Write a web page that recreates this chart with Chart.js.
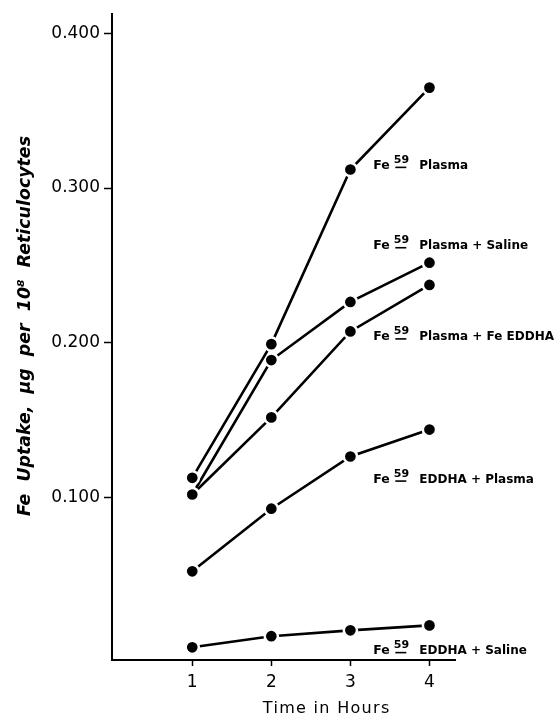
<!DOCTYPE html>
<html>
<head>
<meta charset="utf-8">
<script src="https://cdn.jsdelivr.net/npm/chart.js@4"></script>
<style>
html,body{margin:0;padding:0;background:#fff;}
canvas{display:block;}
</style>
</head>
<body>
<canvas id="c" width="560" height="717"></canvas>
<script>
// ---- data ----
const hours = [1, 2, 3, 4];
const plasma        = [0.1125, 0.199, 0.312, 0.365];
const plasmaSaline  = [0.1017, 0.1887, 0.2263, 0.2517];
const plasmaFeEddha = [0.1017, 0.1516, 0.2072, 0.2373];
const eddhaPlasma   = [0.052, 0.0925, 0.1263, 0.1437];
const eddhaSaline   = [0.0028, 0.010, 0.0138, 0.017];
const seriesNames = ['Plasma', 'Plasma + Saline', 'Plasma + Fe EDDHA', 'EDDHA + Plasma', 'EDDHA + Saline'];
const seriesValues = [plasma, plasmaSaline, plasmaFeEddha, eddhaPlasma, eddhaSaline];
const labelHour = 3.29;
const labelValues = [0.315, 0.263, 0.204, 0.112, 0.001];
const yTicks = [0.1, 0.2, 0.3, 0.4];
const xTicks = [1, 2, 3, 4];
const xTitle = 'Time in Hours';
const yTitle = 'Fe  Uptake,  \u03BCg  per  10\u2078  Reticulocytes';

const FONT = 'DejaVu Sans';

const datasets = seriesValues.map((vals, i) => ({
  label: seriesNames[i],
  data: hours.map((h, j) => ({x: h, y: vals[j]})),
  borderColor: '#000',
  borderWidth: 2.6,
  backgroundColor: '#000',
  pointRadius: 6.6,
  pointBackgroundColor: '#000',
  pointBorderColor: '#fff',
  pointBorderWidth: 2.5,
  tension: 0,
  fill: false
}));

const bgPlugin = {
  id: 'bg',
  beforeDraw(chart) {
    const ctx = chart.ctx;
    ctx.save();
    ctx.fillStyle = '#fff';
    ctx.fillRect(0, 0, chart.width, chart.height);
    ctx.restore();
  }
};

const textPlugin = {
  id: 'texts',
  afterDraw(chart) {
    const ctx = chart.ctx;
    const xs = chart.scales.x, ys = chart.scales.y;
    ctx.save();
    ctx.fillStyle = '#000';
    ctx.strokeStyle = '#000';
    ctx.textAlign = 'left';
    ctx.textBaseline = 'alphabetic';
    // series labels
    seriesNames.forEach((name, i) => {
      const px = xs.getPixelForValue(labelHour);
      const base = ys.getPixelForValue(labelValues[i]) + 4;
      ctx.font = 'bold 12.5px "' + FONT + '"';
      ctx.fillText('Fe', px, base);
      ctx.font = 'bold 11px "' + FONT + '"';
      ctx.fillText('59', px + 20.5, base - 6);
      ctx.lineWidth = 1.6;
      ctx.beginPath();
      ctx.moveTo(px + 22, base - 1.5);
      ctx.lineTo(px + 33, base - 1.5);
      ctx.stroke();
      ctx.font = 'bold 12px "' + FONT + '"';
      ctx.fillText(name, px + 46, base);
    });
    // x title
    ctx.font = '16px "' + FONT + '"';
    try { ctx.letterSpacing = '1.3px'; } catch (e) {}
    ctx.textAlign = 'center';
    ctx.fillText(xTitle, xs.getPixelForValue(2.7), 713);
    try { ctx.letterSpacing = '0px'; } catch (e) {}
    // y title
    ctx.font = 'italic bold 17px "' + FONT + '"';
    const w = ctx.measureText(yTitle).width;
    ctx.translate(30, 326);
    ctx.rotate(-Math.PI / 2);
    ctx.scale(380 / w, 1);
    ctx.textAlign = 'center';
    ctx.fillText(yTitle, 0, 0);
    ctx.restore();
  }
};

new Chart(document.getElementById('c'), {
  type: 'line',
  data: { datasets },
  options: {
    responsive: false,
    animation: false,
    devicePixelRatio: 1,
    layout: { padding: { top: 13, right: 105, left: 0, bottom: 0 } },
    plugins: { legend: { display: false }, tooltip: { enabled: false } },
    elements: { line: { borderCapStyle: 'butt' } },
    scales: {
      x: {
        type: 'linear',
        min: -0.015,
        max: 4.323,
        afterFit(scale) { scale.height = 57; },
        afterBuildTicks(scale) { scale.ticks = xTicks.map(v => ({ value: v })); },
        ticks: {
          color: '#000',
          font: { family: FONT, size: 17 },
          padding: 6,
          maxRotation: 0,
          callback: v => String(v)
        },
        grid: { drawOnChartArea: false, drawTicks: true, tickLength: 6, tickWidth: 1.5, tickColor: '#000' },
        border: { display: true, color: '#000', width: 2 }
      },
      y: {
        type: 'linear',
        min: -0.0054,
        max: 0.4125,
        afterFit(scale) { scale.width = 112; },
        afterBuildTicks(scale) { scale.ticks = yTicks.map(v => ({ value: v })); },
        ticks: {
          color: '#000',
          font: { family: FONT, size: 17 },
          padding: 4,
          callback: v => Number(v).toFixed(3)
        },
        grid: { drawOnChartArea: false, drawTicks: true, tickLength: 8, tickWidth: 1.5, tickColor: '#000' },
        border: { display: true, color: '#000', width: 2 }
      }
    }
  },
  plugins: [bgPlugin, textPlugin]
});
</script>
</body>
</html>
